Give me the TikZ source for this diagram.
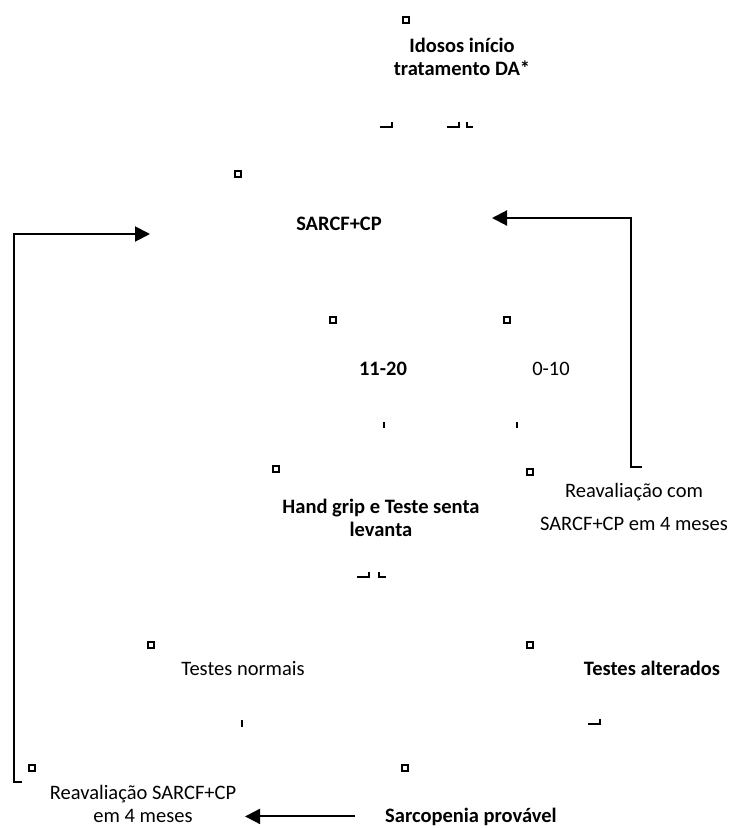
\documentclass[tikz,border=0pt]{standalone}
\usepackage{fontspec}
\setmainfont{Carlito}
\usepackage{tikz}
\usetikzlibrary{arrows.meta}

\begin{document}
\begin{tikzpicture}[x=1pt,y=-1pt,
  txt/.style={inner sep=0pt,anchor=base,align=center,font=\fontsize{20.5}{23}\selectfont},
  btxt/.style={txt,font=\fontsize{20.5}{23}\selectfont\bfseries},
  arr/.style={line width=2pt,-{Triangle[length=15pt,width=15pt]}},
  cornr/.style={line width=2pt}]
  \useasboundingbox (0,0) rectangle (731,828);
  \def\s{3}
  \foreach \x/\y in {406/20,238/174,333/320,507/320,276/469,530/472,151/645,530/645,32/768,405/768}{
    \draw[line width=1.5pt] ({\x-\s},{\y-\s}) rectangle ({\x+\s},{\y+\s});
  }
  \node[btxt] (idosos) at (462,75) {Idosos início\\tratamento DA*};
  \node[btxt] (sarcf) at (339,230) {SARCF+CP};
  \node[btxt] (alto) at (383,375) {11-20};
  \node[txt] (baixo) at (551,375) {0-10};
  \node[btxt] (hand) at (381,536) {Hand grip e Teste senta\\levanta};
  \node[txt] (reavcom) at (634,530) {Reavaliação com\\[10pt]SARCF+CP em 4 meses};
  \node[txt] (normais) at (243,675) {Testes normais};
  \node[btxt] (alterados) at (652,675) {Testes alterados};
  \node[txt] (reavsarc) at (143,822) {Reavaliação SARCF+CP\\em 4 meses};
  \node[btxt] (sarcop) at (471,822) {Sarcopenia provável};
  \draw[cornr] (380,127) -- (392,127) -- (392,122);
  \draw[cornr] (447,127) -- (459,127) -- (459,122);
  \draw[cornr] (467,122) -- (467,127) -- (473,127);
  \draw[cornr] (384,422) -- (384,428);
  \draw[cornr] (517,422) -- (517,428);
  \draw[cornr] (357,577) -- (369,577) -- (369,572);
  \draw[cornr] (379,572) -- (379,577) -- (386,577);
  \draw[cornr] (242,720) -- (242,727);
  \draw[cornr] (588,724) -- (600,724) -- (600,719);
  \coordinate (volta1) at (642,467);
  \coordinate (entra1) at (492,218);
  \draw[arr] (volta1) -- ++(-11,0) |- (entra1);
  \coordinate (volta2) at (22,782);
  \coordinate (entra2) at (150,234);
  \draw[arr] (volta2) -- ++(-8,0) |- (entra2);
  \draw[arr] ([xshift=-30pt]sarcop.west) -- ([xshift=-140pt]sarcop.west);
\end{tikzpicture}
\end{document}
